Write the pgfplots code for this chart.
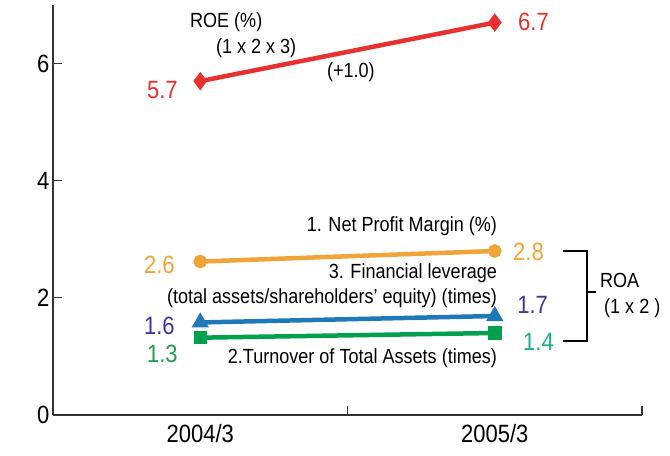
\documentclass[border=0pt]{standalone}
\usepackage{fontspec}
\setmainfont{Liberation Sans}[FakeStretch=0.88]
\usepackage{pgfplots}
\pgfplotsset{compat=1.18}
\definecolor{cred}{HTML}{E8312F}
\definecolor{corange}{HTML}{F0A43A}
\definecolor{cblue}{HTML}{1F78B8}
\definecolor{cbluet}{HTML}{3A3A98}
\definecolor{cgreen}{HTML}{00A04E}
\definecolor{cgreent}{HTML}{1BA24A}
\definecolor{cteal}{HTML}{1AAE8A}
\definecolor{caxis}{HTML}{333333}
\newcommand{\bigfnt}{\fontsize{25bp}{29bp}\selectfont}
\newcommand{\smfnt}{\fontsize{20.5bp}{24bp}\selectfont}
\begin{document}
\begin{tikzpicture}
\begin{axis}[
  name=ax,
  scale only axis,
  width=589bp, height=410bp,
  xmin=0, xmax=2, ymin=0, ymax=7,
  axis lines*=left,
  axis line style={caxis, line width=1.4bp},
  tick style={caxis, line width=1.2bp},
  major tick length=9bp,
  tick align=inside,
  xtick={1,2}, xticklabels={},
  extra x ticks={0.5,1.5},
  extra x tick labels={2004/3,2005/3},
  extra x tick style={major tick length=0pt, tick label style={yshift=-6bp}},
  ytick={0,2,4,6},
  ticklabel style={font=\bigfnt, text=black},
  /pgf/number format/assume math mode=true,
  clip=false,
]
\addplot[cred, line width=4.5bp, mark=diamond*, mark size=5.5bp, mark options={solid}] coordinates {(0.5,5.7) (1.5,6.7)};
\addplot[corange, line width=4.5bp, mark=*, mark size=4.5bp] coordinates {(0.5,2.62) (1.5,2.8)};
\addplot[cblue, line width=4.5bp, mark=triangle*, mark size=5.5bp] coordinates {(0.5,1.58) (1.5,1.69)};
\addplot[cgreen, line width=4.5bp, mark=square*, mark size=4.5bp] coordinates {(0.5,1.32) (1.5,1.4)};

\node[anchor=west, inner sep=0pt, font=\smfnt] at (axis cs:0.465,6.71) {ROE (\%)};
\node[anchor=west, inner sep=0pt, font=\smfnt] at (axis cs:0.553,6.27) {(1 x 2 x 3)};
\node[anchor=west, inner sep=0pt, font=\smfnt] at (axis cs:0.930,5.86) {(+1.0)};
\node[anchor=east, inner sep=0pt, font=\bigfnt, text=cred] at (axis cs:0.424,5.55) {5.7};
\node[anchor=west, inner sep=0pt, font=\bigfnt, text=cred] at (axis cs:1.579,6.71) {6.7};

\node[anchor=east, inner sep=0pt, font=\smfnt] at (axis cs:1.508,3.23) {1. Net Profit Margin (\%)};
\node[anchor=east, inner sep=0pt, font=\bigfnt, text=corange] at (axis cs:0.414,2.56) {2.6};
\node[anchor=west, inner sep=0pt, font=\bigfnt, text=corange] at (axis cs:1.562,2.78) {2.8};

\node[anchor=east, inner sep=0pt, font=\smfnt] at (axis cs:1.508,2.42) {3. Financial leverage};
\node[anchor=east, inner sep=0pt, font=\smfnt] at (axis cs:1.508,2.00) {(total assets/shareholders’ equity) (times)};
\node[anchor=east, inner sep=0pt, font=\bigfnt, text=cbluet] at (axis cs:0.414,1.52) {1.6};
\node[anchor=west, inner sep=0pt, font=\bigfnt, text=cbluet] at (axis cs:1.576,1.88) {1.7};

\node[anchor=east, inner sep=0pt, font=\bigfnt, text=cgreent] at (axis cs:0.424,1.04) {1.3};
\node[anchor=west, inner sep=0pt, font=\bigfnt, text=cteal] at (axis cs:1.596,1.25) {1.4};
\node[anchor=east, inner sep=0pt, font=\smfnt] at (axis cs:1.508,0.97) {2.Turnover of Total Assets (times)};

\draw[black, line width=1.4bp] (axis cs:1.732,2.80) -- (axis cs:1.813,2.80) -- (axis cs:1.813,1.263) -- (axis cs:1.732,1.263);
\draw[black, line width=1.4bp] (axis cs:1.813,2.10) -- (axis cs:1.844,2.10);
\node[anchor=west, inner sep=0pt, font=\smfnt] at (axis cs:1.857,2.30) {ROA};
\node[anchor=west, inner sep=0pt, font=\smfnt] at (axis cs:1.871,1.83) {(1 x 2 )};
\end{axis}
\pgfresetboundingbox
\useasboundingbox ([shift={(-53bp,-41bp)}]ax.south west) rectangle ++(670bp,456bp);
\end{tikzpicture}
\end{document}
